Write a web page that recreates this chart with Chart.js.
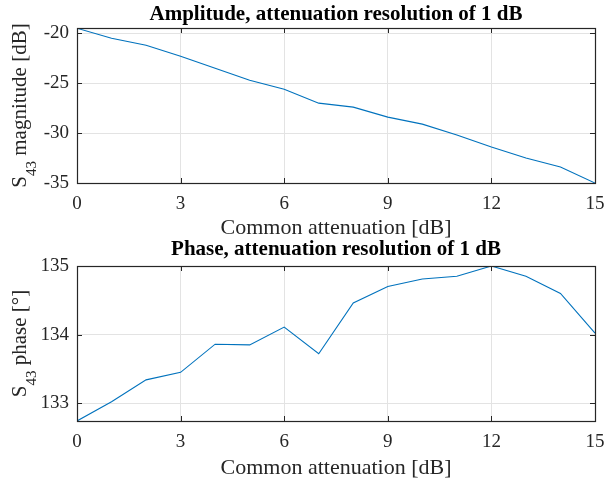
<!DOCTYPE html>
<html>
<head>
<meta charset="utf-8">
<script src="https://cdn.jsdelivr.net/npm/chart.js@4.4.1/dist/chart.umd.min.js"></script>
<style>
  body { margin: 0; background: #fff; overflow: hidden; }
  #wrap { position: relative; width: 604px; height: 481px; }
  canvas { position: absolute; left: 0; }
</style>
</head>
<body>
<div id="wrap">
  <canvas id="ampChart" width="604" height="242" style="top:0"></canvas>
  <canvas id="phaseChart" width="604" height="256" style="top:225px"></canvas>
</div>
<script>
// Common attenuation steps [dB]
const attenuation = [0, 1, 2, 3, 4, 5, 6, 7, 8, 9, 10, 11, 12, 13, 14, 15];
// S43 magnitude [dB]
const magnitude = [-19.5, -20.5, -21.2, -22.3, -23.5, -24.7, -25.6, -27.0, -27.4, -28.4, -29.1, -30.2, -31.4, -32.5, -33.4, -35.0];
// S43 phase [deg]
const phase = [132.74, 133.02, 133.34, 133.45, 133.86, 133.85, 134.11, 133.72, 134.46, 134.70, 134.81, 134.85, 135.0, 134.85, 134.60, 134.02];

const xTicks = [0, 3, 6, 9, 12, 15];
const magTicks = [-35, -30, -25, -20];
const phaseTicks = [133, 134, 135];

const FONT = '"Liberation Serif", "Times New Roman", serif';
const LINE_COLOR = '#0072BD';
const AXIS_COLOR = '#262626';
const GRID_COLOR = '#e3e3e3';

// box round the axes with inward ticks, like MATLAB
const boxPlugin = {
    id: 'box',
    afterDraw(chart) {
        const ctx = chart.ctx;
        const a = chart.chartArea;
        const len = 5;
        ctx.save();
        ctx.strokeStyle = AXIS_COLOR;
        ctx.lineWidth = 1;
        ctx.beginPath();
        chart.scales.x.ticks.forEach(t => {
            const px = Math.round(chart.scales.x.getPixelForValue(t.value)) + 0.5;
            ctx.moveTo(px, a.bottom); ctx.lineTo(px, a.bottom - len);
            ctx.moveTo(px, a.top); ctx.lineTo(px, a.top + len);
        });
        chart.scales.y.ticks.forEach(t => {
            const py = Math.round(chart.scales.y.getPixelForValue(t.value)) + 0.5;
            ctx.moveTo(a.left, py); ctx.lineTo(a.left + len, py);
            ctx.moveTo(a.right, py); ctx.lineTo(a.right - len, py);
        });
        ctx.stroke();
        ctx.lineWidth = 1.2;
        ctx.strokeRect(Math.round(a.left) + 0.5, Math.round(a.top) + 0.5,
            Math.round(a.right - a.left), Math.round(a.bottom - a.top));
        ctx.restore();
    }
};

// y axis title with subscript "43"
const yTitlePlugin = {
    id: 'yTitle',
    afterDraw(chart, args, opts) {
        const ctx = chart.ctx;
        const a = chart.chartArea;
        const big = '21px ' + FONT;
        const small = '15px ' + FONT;
        ctx.save();
        ctx.font = big;
        const wS = ctx.measureText('S').width;
        const wRest = ctx.measureText(opts.rest).width;
        ctx.font = small;
        const wSub = ctx.measureText('43').width;
        const total = wS + wSub + wRest;
        ctx.translate(opts.x, (a.top + a.bottom) / 2);
        ctx.rotate(-Math.PI / 2);
        ctx.fillStyle = '#262626';
        ctx.textBaseline = 'alphabetic';
        ctx.textAlign = 'left';
        let x = -total / 2;
        ctx.font = big;
        ctx.fillText('S', x, 0);
        x += wS;
        ctx.font = small;
        ctx.fillText('43', x, 10);
        x += wSub;
        ctx.font = big;
        ctx.fillText(opts.rest, x, 0);
        ctx.restore();
    }
};

function makeChart(id, values, yMin, yMax, yTicks, title, yRest, titlePad, xHeight, xTitleBottom) {
    return new Chart(document.getElementById(id), {
        type: 'line',
        data: {
            labels: attenuation,
            datasets: [{
                data: values.map((v, i) => ({ x: attenuation[i], y: v })),
                borderColor: LINE_COLOR,
                borderWidth: 1.1,
                pointRadius: 0,
                tension: 0,
                fill: false
            }]
        },
        options: {
            responsive: false,
            animation: false,
            layout: { padding: { left: 0, right: 9, top: 0, bottom: 0 } },
            plugins: {
                legend: { display: false },
                tooltip: { enabled: false },
                title: {
                    display: true,
                    text: title,
                    fullSize: false,
                    color: '#000',
                    font: { family: FONT, size: 21, weight: 'bold' },
                    padding: titlePad
                },
                yTitle: { x: 26, rest: yRest }
            },
            scales: {
                x: {
                    type: 'linear',
                    min: 0,
                    max: 15,
                    afterBuildTicks: s => { s.ticks = xTicks.map(v => ({ value: v })); },
                    afterFit: s => {
                        s.height = xHeight;
                        s.paddingLeft = 0;
                        s.paddingRight = 0;
                    },
                    grid: { color: GRID_COLOR, drawTicks: false },
                    border: { display: false },
                    ticks: {
                        color: '#262626',
                        padding: 10,
                        maxRotation: 0,
                        font: { family: FONT, size: 19 }
                    },
                    title: {
                        display: true,
                        text: 'Common attenuation [dB]',
                        color: '#262626',
                        padding: { top: 0, bottom: xTitleBottom },
                        font: { family: FONT, size: 22 }
                    }
                },
                y: {
                    type: 'linear',
                    min: yMin,
                    max: yMax,
                    afterBuildTicks: s => { s.ticks = yTicks.map(v => ({ value: v })); },
                    afterFit: s => {
                        s.width = 77;
                        s.paddingTop = 0;
                        s.paddingBottom = 0;
                    },
                    grid: { color: GRID_COLOR, drawTicks: false },
                    border: { display: false },
                    ticks: {
                        color: '#262626',
                        padding: 8,
                        font: { family: FONT, size: 19 },
                        callback: v => String(v)
                    }
                }
            }
        },
        plugins: [boxPlugin, yTitlePlugin]
    });
}

// top: plot 28..183 inside a 242 px canvas
makeChart('ampChart', magnitude, -35, -19.47, magTicks,
    'Amplitude, attenuation resolution of 1 dB', ' magnitude [dB]',
    { top: 2, bottom: 0.8 }, 59, 1);
// bottom: canvas starts at 225, plot 266..421
makeChart('phaseChart', phase, 132.74, 135, phaseTicks,
    'Phase, attenuation resolution of 1 dB', ' phase [\u00b0]',
    { top: 12.4, bottom: 3.4 }, 60, 0);
</script>
</body>
</html>
